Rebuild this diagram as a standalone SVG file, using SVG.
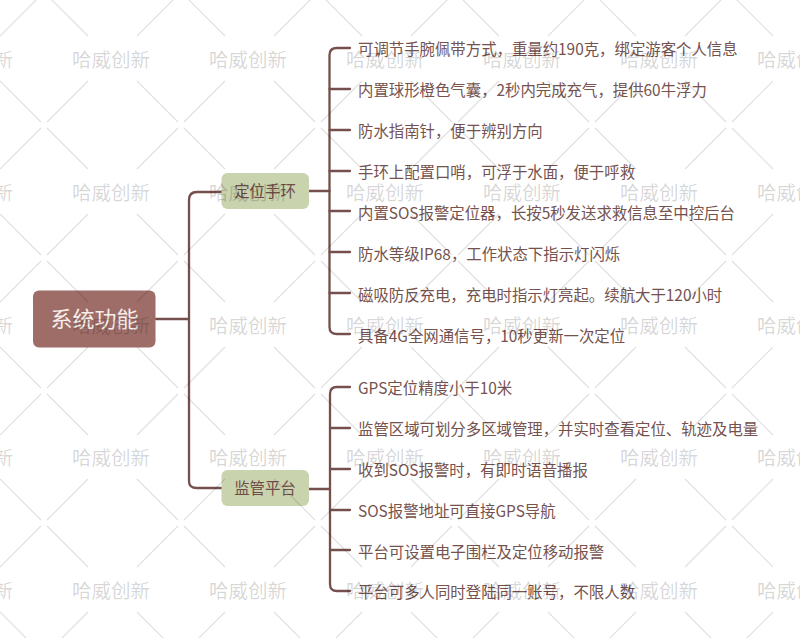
<svg xmlns="http://www.w3.org/2000/svg" width="800" height="638" viewBox="0 0 800 638">
<style>
text{font-family:"Noto Sans CJK SC","Noto Sans",sans-serif}
.leaf{font-size:15.4px;fill:#75524e}
.mid{font-size:15.4px;fill:#6f4c48;text-anchor:middle}
.root{font-size:22px;fill:#f5eeea;text-anchor:middle}
.wm{font-size:19.5px;fill:#000;fill-opacity:.17}
.c{fill:none;stroke:#744f4b;stroke-width:2.3;stroke-linecap:round}
</style>
<defs>
<g id="cross" fill="none" stroke="#000" stroke-opacity=".12" stroke-width="1.2"><path d="M3 -3L44 -44M-3 -3L-44 -44M3 3L44 44M-3 3L-44 44"/></g>
</defs>
<rect width="800" height="638" fill="#fff"/>
<g id="connectors" class="c">
<path d="M156 319H189"/>
<path d="M189 319V200Q189 192 197 192H222"/>
<path d="M189 319V481Q189 488 197 488H222"/>
<path d="M309 191H329.500"/>
<path d="M350 48H337Q329.500 48 329.500 55V327Q329.500 334 337 334H350"/>
<path d="M329.500 89H350M329.500 130H350M329.500 171H350M329.500 211H350M329.500 252H350M329.500 293H350"/>
<path d="M309 489H330"/>
<path d="M350 387H337Q330 387 330 394V584Q330 591 337 591H350"/>
<path d="M330 428H350M330 469H350M330 510H350M330 550H350"/>
</g>
<g id="root"><rect x="33" y="290.500" width="122.500" height="57" rx="6" fill="#9f6d68"/><text class="root" x="94.500" y="327">系统功能</text></g>
<g id="n1"><rect x="221.500" y="173" width="87.500" height="36" rx="6" fill="#c9d3ae"/><text class="mid" x="265" y="197">定位手环</text></g>
<g id="n2"><rect x="221.500" y="470" width="87.500" height="36" rx="6" fill="#c9d3ae"/><text class="mid" x="265" y="494">监管平台</text></g>
<g id="l1"><text class="leaf" x="358" y="55">可调节手腕佩带方式，重量约190克，绑定游客个人信息</text></g>
<g id="l2"><text class="leaf" x="358" y="96">内置球形橙色气囊，2秒内完成充气，提供60牛浮力</text></g>
<g id="l3"><text class="leaf" x="358" y="137">防水指南针，便于辨别方向</text></g>
<g id="l4"><text class="leaf" x="358" y="178">手环上配置口哨，可浮于水面，便于呼救</text></g>
<g id="l5"><text class="leaf" x="358" y="219">内置SOS报警定位器，长按5秒发送求救信息至中控后台</text></g>
<g id="l6"><text class="leaf" x="358" y="260">防水等级IP68，工作状态下指示灯闪烁</text></g>
<g id="l7"><text class="leaf" x="358" y="301">磁吸防反充电，充电时指示灯亮起。续航大于120小时</text></g>
<g id="l8"><text class="leaf" x="358" y="342">具备4G全网通信号，10秒更新一次定位</text></g>
<g id="l9"><text class="leaf" x="358" y="394">GPS定位精度小于10米</text></g>
<g id="l10"><text class="leaf" x="358" y="435">监管区域可划分多区域管理，并实时查看定位、轨迹及电量</text></g>
<g id="l11"><text class="leaf" x="358" y="476">收到SOS报警时，有即时语音播报</text></g>
<g id="l12"><text class="leaf" x="358" y="517">SOS报警地址可直接GPS导航</text></g>
<g id="l13"><text class="leaf" x="358" y="558">平台可设置电子围栏及定位移动报警</text></g>
<g id="l14"><text class="leaf" x="358" y="598">平台可多人同时登陆同一账号，不限人数</text></g>
<g id="watermark">
<use href="#cross" x="44" y="-8"/><use href="#cross" x="181" y="-8"/><use href="#cross" x="318" y="-8"/><use href="#cross" x="455" y="-8"/><use href="#cross" x="592" y="-8"/><use href="#cross" x="729" y="-8"/>
<use href="#cross" x="44" y="125"/><use href="#cross" x="181" y="125"/><use href="#cross" x="318" y="125"/><use href="#cross" x="455" y="125"/><use href="#cross" x="592" y="125"/><use href="#cross" x="729" y="125"/>
<use href="#cross" x="44" y="258"/><use href="#cross" x="181" y="258"/><use href="#cross" x="318" y="258"/><use href="#cross" x="455" y="258"/><use href="#cross" x="592" y="258"/><use href="#cross" x="729" y="258"/>
<use href="#cross" x="44" y="391"/><use href="#cross" x="181" y="391"/><use href="#cross" x="318" y="391"/><use href="#cross" x="455" y="391"/><use href="#cross" x="592" y="391"/><use href="#cross" x="729" y="391"/>
<use href="#cross" x="44" y="523"/><use href="#cross" x="181" y="523"/><use href="#cross" x="318" y="523"/><use href="#cross" x="455" y="523"/><use href="#cross" x="592" y="523"/><use href="#cross" x="729" y="523"/>
<use href="#cross" x="44" y="656"/><use href="#cross" x="181" y="656"/><use href="#cross" x="318" y="656"/><use href="#cross" x="455" y="656"/><use href="#cross" x="592" y="656"/><use href="#cross" x="729" y="656"/>
<text class="wm" x="-65" y="67">哈威创新</text><text class="wm" x="72" y="67">哈威创新</text><text class="wm" x="209" y="67">哈威创新</text><text class="wm" x="346" y="67">哈威创新</text><text class="wm" x="483" y="67">哈威创新</text><text class="wm" x="620" y="67">哈威创新</text><text class="wm" x="757" y="67">哈威创新</text>
<text class="wm" x="-65" y="200">哈威创新</text><text class="wm" x="72" y="200">哈威创新</text><text class="wm" x="209" y="200">哈威创新</text><text class="wm" x="346" y="200">哈威创新</text><text class="wm" x="483" y="200">哈威创新</text><text class="wm" x="620" y="200">哈威创新</text><text class="wm" x="757" y="200">哈威创新</text>
<text class="wm" x="-65" y="333">哈威创新</text><text class="wm" x="72" y="333">哈威创新</text><text class="wm" x="209" y="333">哈威创新</text><text class="wm" x="346" y="333">哈威创新</text><text class="wm" x="483" y="333">哈威创新</text><text class="wm" x="620" y="333">哈威创新</text><text class="wm" x="757" y="333">哈威创新</text>
<text class="wm" x="-65" y="465">哈威创新</text><text class="wm" x="72" y="465">哈威创新</text><text class="wm" x="209" y="465">哈威创新</text><text class="wm" x="346" y="465">哈威创新</text><text class="wm" x="483" y="465">哈威创新</text><text class="wm" x="620" y="465">哈威创新</text><text class="wm" x="757" y="465">哈威创新</text>
<text class="wm" x="-65" y="598">哈威创新</text><text class="wm" x="72" y="598">哈威创新</text><text class="wm" x="209" y="598">哈威创新</text><text class="wm" x="346" y="598">哈威创新</text><text class="wm" x="483" y="598">哈威创新</text><text class="wm" x="620" y="598">哈威创新</text><text class="wm" x="757" y="598">哈威创新</text>
</g>
</svg>
